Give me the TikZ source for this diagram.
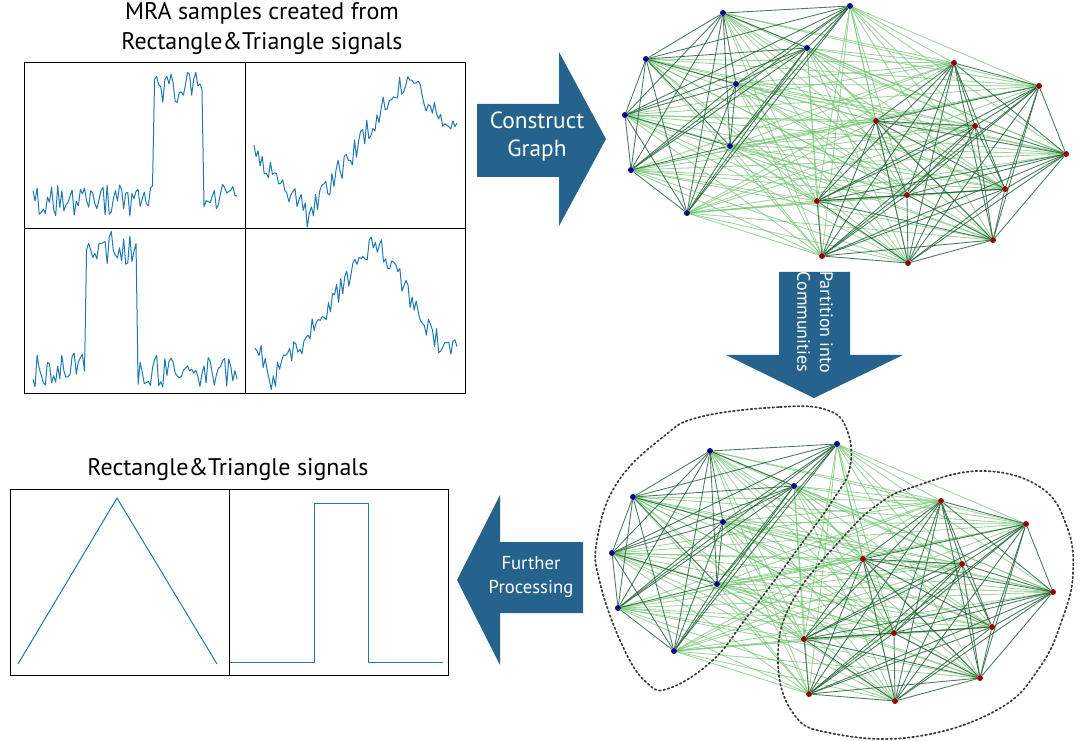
\documentclass[tikz,border=0pt]{standalone}
\usepackage{fontspec}
\setmainfont{PT Sans}

\definecolor{sigblue}{RGB}{31,119,180}
\definecolor{arrowblue}{RGB}{38,99,140}
\definecolor{bluenode}{RGB}{10,10,130}
\definecolor{rednode}{RGB}{140,10,10}
\definecolor{intragreen}{RGB}{40,100,60}
\definecolor{intergreen}{RGB}{115,195,115}
\definecolor{hullgray}{RGB}{60,60,60}

\pgfdeclarelayer{edges}
\pgfsetlayers{edges,main}

\tikzset{
  frame/.style={draw=black, line width=0.7pt},
  sig/.style={sigblue, line width=0.75pt, line join=round},
  bdot/.style={circle, fill=bluenode, inner sep=0pt, minimum size=4.5pt},
  rdot/.style={circle, fill=rednode, inner sep=0pt, minimum size=4.5pt},
  intra/.style={draw=intragreen, draw opacity=0.85, line width=0.65pt},
  inter/.style={draw=intergreen, draw opacity=0.7, line width=0.65pt},
  blockarrow/.style={fill=arrowblue},
  arrowtext/.style={text=white, align=center},
  title/.style={align=center, font=\fontsize{18}{22.5}\selectfont},
  hull/.style={draw=hullgray, dotted, line width=1.3pt, line cap=round},
}

% the graph with its two communities, #1 = name prefix, (#2,#3) = shift
\newcommand\commgraph[3]{%
  \begin{scope}[shift={(#2,#3)}]
    \foreach \n/\px/\py in {1/723/13, 2/850/6, 3/807/48, 4/646/59, 5/736/84,
                            6/625/115, 7/730/146, 8/631/170, 9/687/213}
      \node[bdot] (#1b\n) at (\px,\py) {};
    \foreach \n/\px/\py in {1/954/63, 2/1039/86, 3/876/121, 4/975/126, 5/1066/154,
                            6/1005/189, 7/907/195, 8/817/201, 9/993/240, 10/822/256, 11/908/263}
      \node[rdot] (#1r\n) at (\px,\py) {};
  \end{scope}
  \begin{pgfonlayer}{edges}
    % edges between the communities
    \foreach \i in {1,...,9}
      \foreach \j in {1,...,11}
        \draw[inter] (#1b\i) -- (#1r\j);
    % edges inside the communities
    \foreach \i in {2,...,9}{
      \pgfmathtruncatemacro\lastj{\i-1}
      \foreach \j in {1,...,\lastj}
        \draw[intra] (#1b\i) -- (#1b\j);}
    \foreach \i in {2,...,11}{
      \pgfmathtruncatemacro\lastj{\i-1}
      \foreach \j in {1,...,\lastj}
        \draw[intra] (#1r\i) -- (#1r\j);}
  \end{pgfonlayer}
}

\begin{document}
\begin{tikzpicture}[x=0.75pt, y=-0.75pt]
  \useasboundingbox (0,0) rectangle (1082,741);
  \pgfmathsetseed{42}

  % the MRA samples
  \node[title] (samplestitle) at (262,29) {MRA samples created from\\Rectangle\&Triangle signals};
  \draw[frame] (24,62) rectangle (245,228);
  \draw[frame] (245,62) rectangle (465,228);
  \draw[frame] (24,228) rectangle (245,393);
  \draw[frame] (245,228) rectangle (465,393);

  \draw[sig] plot[domain=33:237, samples=100]
    (\x, {(\x<153 ? 200 : (\x<204 ? 88 : 200)) + 16*rand});
  \draw[sig] plot[domain=254:457, samples=100]
    (\x, {(\x<308 ? 152+(\x-254)*1.17 : (\x<405 ? 215-(\x-308)*1.41 : 78+(\x-405)*1.0)) + 13*rand});
  \draw[sig] plot[domain=33:237, samples=100]
    (\x, {(\x<86 ? 370 : (\x<137 ? 248 : 370)) + 17*rand});
  \draw[sig] plot[domain=255:457, samples=100]
    (\x, {(\x<273 ? 345+(\x-255)*1.94 : (\x<378 ? 380-(\x-273)*1.333 : (\x<442 ? 240+(\x-378)*1.72 : 350))) + 13*rand});

  % the clean signals
  \node[title] (signalstitle) at (228,469) {Rectangle\&Triangle signals};
  \draw[frame] (10,489) rectangle (229,675);
  \draw[frame] (229,489) rectangle (448,675);
  \draw[sig] (18,664) -- (117,498) -- (217,664);
  \draw[sig] (230,662) -- (314,662) -- (314,503) -- (368,503) -- (368,662) -- (443,662);

  % the block arrows
  \fill[blockarrow] (477,104) -- (559,104) -- (559,52) -- (606,139) -- (559,226) -- (559,177) -- (477,177) -- cycle;
  \node[arrowtext, font=\fontsize{17.5}{21}\selectfont] (construct) at (537,137) {Construct\\Graph};
  \fill[blockarrow] (779,272) -- (850,272) -- (850,355) -- (903,355) -- (814,398) -- (726,355) -- (779,355) -- cycle;
  \node[arrowtext, rotate=-90, font=\fontsize{13.5}{17}\selectfont] (partition) at (815,322) {Partition into\\Communities};
  \fill[blockarrow] (583,542) -- (500,542) -- (500,495) -- (457,580) -- (500,665) -- (500,613) -- (583,613) -- cycle;
  \node[arrowtext, font=\fontsize{14}{18}\selectfont] (further) at (531,577) {Further\\Processing};

  % the two graphs
  \commgraph{t}{0}{0}
  \commgraph{p}{-13}{438}

  % the communities
  \draw[hull] plot[smooth cycle, tension=0.7] coordinates {(700,417) (780,407) (827,410) (847,430)
    (850,467) (833,500) (797,550) (747,617) (713,660) (670,688) (647,683) (623,647) (600,583)
    (597,540) (617,483) (663,437)};
  \draw[hull] plot[smooth cycle, tension=0.7] coordinates {(913,487) (980,471) (1040,487) (1067,527)
    (1073,573) (1063,617) (1040,667) (997,710) (913,737) (830,733) (793,713) (778,660) (793,600)
    (847,533) (880,503)};
\end{tikzpicture}
\end{document}
